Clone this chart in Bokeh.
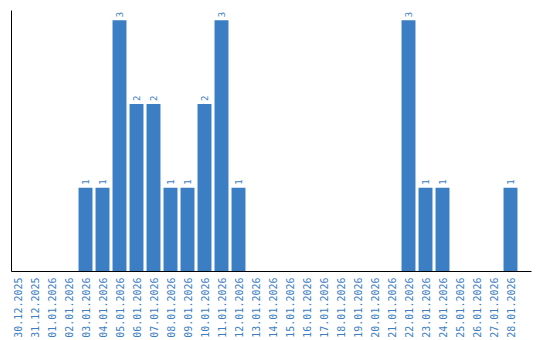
import math
from bokeh.plotting import figure
from bokeh.models import Range1d, FixedTicker, ColumnDataSource
from bokeh.core.properties import value
from bokeh.embed import file_html
from bokeh.resources import INLINE

dates = ["30.12.2025", "31.12.2025", "01.01.2026", "02.01.2026", "03.01.2026",
         "04.01.2026", "05.01.2026", "06.01.2026", "07.01.2026", "08.01.2026",
         "09.01.2026", "10.01.2026", "11.01.2026", "12.01.2026", "13.01.2026",
         "14.01.2026", "15.01.2026", "16.01.2026", "17.01.2026", "18.01.2026",
         "19.01.2026", "20.01.2026", "21.01.2026", "22.01.2026", "23.01.2026",
         "24.01.2026", "25.01.2026", "26.01.2026", "27.01.2026", "28.01.2026"]
counts = [0, 0, 0, 0, 1, 1, 3, 2, 2, 1, 1, 2, 3, 1, 0,
          0, 0, 0, 0, 0, 0, 0, 0, 3, 1, 1, 0, 0, 0, 1]

BLUE = "#3b7ec3"
idx = list(range(len(dates)))
src = ColumnDataSource(dict(x=idx, top=counts))
nz = [i for i in idx if counts[i] > 0]
lab = ColumnDataSource(dict(x=nz, y=[counts[i] for i in nz], t=[str(counts[i]) for i in nz]))

p = figure(width=540, height=340, output_backend="svg", toolbar_location=None,
           x_range=Range1d(-0.353, 30.235), y_range=Range1d(0, 3.117),
           min_border_left=11, min_border_right=9, min_border_top=10, min_border_bottom=0)
p.outline_line_color = None
p.grid.visible = False
p.background_fill_color = "white"
p.border_fill_color = "white"

p.vbar(x="x", top="top", bottom=0, width=0.82, source=src, fill_color=BLUE, line_color=None)
p.text(x="x", y="y", text="t", source=lab, angle=math.pi / 2, y_offset=-3,
       text_align="left", text_baseline="middle", text_color=BLUE,
       text_font=value("DejaVu Sans Mono"), text_font_size="9px")

xa = p.xaxis[0]
xa.ticker = FixedTicker(ticks=idx)
xa.major_label_overrides = {i: d for i, d in enumerate(dates)}
xa.major_label_orientation = math.pi / 2
xa.major_label_text_color = BLUE
xa.major_label_text_font = "DejaVu Sans Mono"
xa.major_label_text_font_size = "10px"
xa.major_tick_line_color = None
xa.minor_tick_line_color = None
xa.major_tick_out = 0
xa.major_tick_in = 0
xa.major_label_standoff = 6
xa.axis_line_color = "black"
xa.axis_line_width = 1

ya = p.yaxis[0]
ya.ticker = FixedTicker(ticks=[])
ya.major_label_text_font_size = "0px"
ya.major_tick_out = 0
ya.major_tick_in = 0
ya.minor_tick_line_color = None
ya.major_label_standoff = 0
ya.axis_line_color = "black"

open("out.html", "w").write(file_html(p, INLINE))
